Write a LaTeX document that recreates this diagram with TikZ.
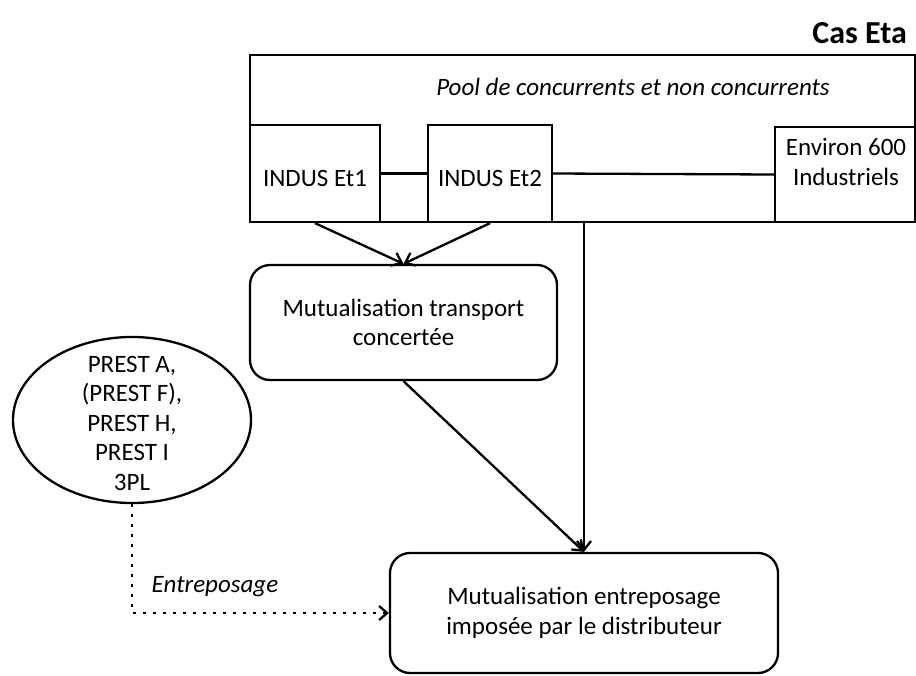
\documentclass[tikz,border=0pt]{standalone}
\usepackage{fontspec}
\setmainfont{Carlito}
\usetikzlibrary{arrows.meta,shapes.geometric}
\begin{document}
\begin{tikzpicture}[x=1pt,y=-1pt,
  every node/.style={font=\fontsize{25}{29.5}\selectfont, inner sep=0pt, align=center},
  sqbox/.style={draw, line width=2.3pt, rectangle},
  rbox/.style={draw, line width=2.3pt, rectangle, rounded corners=20pt},
  link/.style={line width=2.3pt},
  arr/.style={line width=2.3pt, -{Straight Barb[length=9pt,width=14pt,line width=2.3pt]}},
  dotarr/.style={line width=2.5pt, dash pattern=on 2.5pt off 7.5pt, -{Straight Barb[length=8pt,width=14pt,line width=2.3pt]}}]
\useasboundingbox (0,0) rectangle (916,675);
\fill[white] (0,0) rectangle (916,675);
% title
\node[anchor=east, font=\fontsize{32}{38}\selectfont\bfseries] (title) at (907,33) {Cas Eta};
% pool
\node[sqbox, minimum width=665pt, minimum height=167pt] (pool) at (582.5,138.5) {};
\node[font=\fontsize{25}{29.5}\selectfont\itshape] (pooltxt) at (633,87) {Pool de concurrents et non concurrents};
\node[sqbox, minimum width=130pt, minimum height=97pt] (et1) at (315,173.5) {};
\node (et1t) at (315,178) {INDUS Et1};
\node[sqbox, minimum width=124pt, minimum height=97pt] (et2) at (490,173.5) {};
\node (et2t) at (490,178) {INDUS Et2};
\node[sqbox, minimum width=140pt, minimum height=95pt] (env) at (845,174.5) {};
\node (envt) at (846,162) {Environ 600\\Industriels};
% lower boxes
\node[rbox, minimum width=307pt, minimum height=115pt] (box1) at (403.5,322.5) {Mutualisation transport\\concertée};
\node[rbox, minimum width=388pt, minimum height=120pt] (box2) at (584,613) {Mutualisation entreposage\\imposée par le distributeur};
\node[draw, line width=2.3pt, ellipse, minimum width=238pt, minimum height=166pt] (ell) at (132,420) {};
\node (ellt) at (132,423) {PREST A,\\(PREST F),\\PREST H,\\PREST I\\3PL};
% connectors
\draw[link] (et1.east) -- (et2.west);
\draw[link] (et2.east) -- (env.west);
\draw[arr] (et1.south) -- (box1.north);
\draw[arr] (et2.south) -- (box1.north);
\draw[arr] (box2.north |- pool.south) -- (box2.north);
\draw[arr] (box1.south) -- (box2.north);
\draw[dotarr] (ell.south) |- (box2.west);
\node[font=\fontsize{25}{29.5}\selectfont\itshape] (entlbl) at (215,587) {Entreposage};
\end{tikzpicture}
\end{document}
